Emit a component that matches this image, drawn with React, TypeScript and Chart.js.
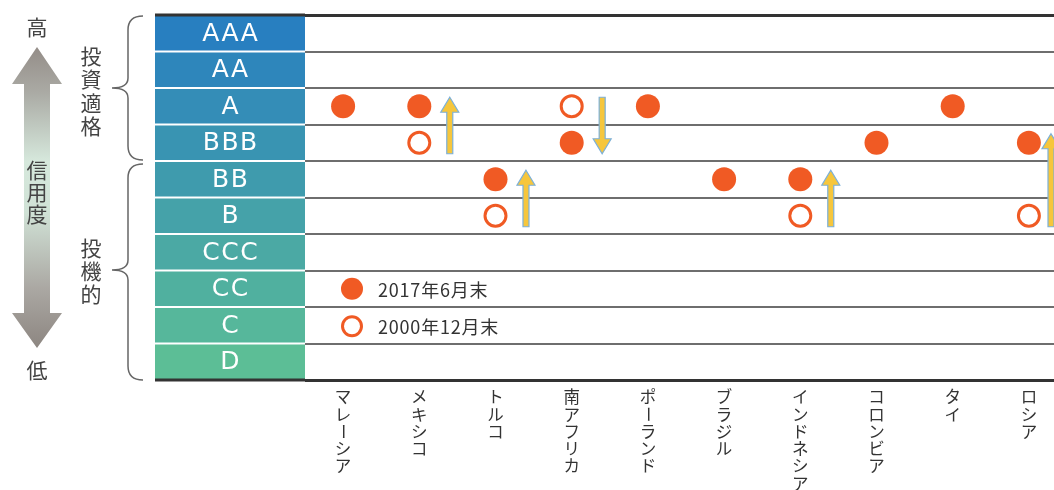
import React, { useEffect, useRef } from "react";
import { Chart, registerables } from "chart.js";

Chart.register(...registerables);

const countries = ["マレーシア", "メキシコ", "トルコ", "南アフリカ", "ポーランド", "ブラジル", "インドネシア", "コロンビア", "タイ", "ロシア"];
const ratings = ["AAA", "AA", "A", "BBB", "BB", "B", "CCC", "CC", "C", "D"];
const rating2017: (string | null)[] = ["A", "A", "BB", "BBB", "A", "BB", "BB", "BBB", "A", "BBB"];
const rating2000: (string | null)[] = [null, "BBB", "B", "A", null, null, "B", null, null, "B"];
const legendLabels = ["2017年6月末", "2000年12月末"];
const axisHigh = "高";
const axisLow = "低";
const axisName = "信用度";
const groupInvest = "投資適格";
const groupSpec = "投機的";

const ORANGE = "#f05a24";
const JP = '"Noto Sans CJK JP", "Noto Sans", sans-serif';

function lerpColor(a: number[], b: number[], t: number) {
  const c = a.map((v, i) => Math.round(v + (b[i] - v) * t));
  return `rgb(${c[0]},${c[1]},${c[2]})`;
}

const overlay = {
  id: "overlay",
  afterDraw(chart: any) {
    const ctx: CanvasRenderingContext2D = chart.ctx;
    const ys = chart.scales.y;
    const xs = chart.scales.x;
    const area = chart.chartArea;
    ctx.save();

    // rating boxes
    const boxL = 155;
    const boxR = area.left;
    ratings.forEach((r, i) => {
      const top = ys.getPixelForValue(i - 0.5);
      const bot = ys.getPixelForValue(i + 0.5);
      ctx.fillStyle = lerpColor([40, 127, 192], [92, 190, 150], i / (ratings.length - 1));
      ctx.fillRect(boxL, top + 1, boxR - boxL, bot - top - 2);
      ctx.fillStyle = "#ffffff";
      ctx.font = '25px "DejaVu Sans", sans-serif';
      (ctx as any).letterSpacing = "1.5px";
      ctx.textAlign = "center";
      ctx.textBaseline = "middle";
      ctx.fillText(r, (boxL + boxR) / 2 + 0.75, (top + bot) / 2 + 1);
      (ctx as any).letterSpacing = "0px";
    });
    // top / bottom lines over boxes
    ctx.strokeStyle = "#333";
    ctx.lineWidth = 3;
    [-0.5, ratings.length - 0.5].forEach((v) => {
      const y = ys.getPixelForValue(v);
      ctx.beginPath();
      ctx.moveTo(boxL, y);
      ctx.lineTo(boxR, y);
      ctx.stroke();
    });

    // double arrow on far left
    const aTop = 47, aBot = 348, hb1 = 84, hb2 = 313;
    const grad = ctx.createLinearGradient(0, aTop, 0, aBot);
    grad.addColorStop(0, "#948d88");
    grad.addColorStop(0.15, "#aaaaa4");
    grad.addColorStop(0.38, "#d6e8dc");
    grad.addColorStop(0.55, "#d0e2d6");
    grad.addColorStop(0.8, "#aba8a3");
    grad.addColorStop(1, "#8d8681");
    ctx.fillStyle = grad;
    ctx.beginPath();
    ctx.moveTo(37, aTop);
    ctx.lineTo(62, hb1);
    ctx.lineTo(50, hb1);
    ctx.lineTo(50, hb2);
    ctx.lineTo(62, hb2);
    ctx.lineTo(37, aBot);
    ctx.lineTo(12, hb2);
    ctx.lineTo(24, hb2);
    ctx.lineTo(24, hb1);
    ctx.lineTo(12, hb1);
    ctx.closePath();
    ctx.fill();

    ctx.fillStyle = "#444";
    ctx.font = `21px ${JP}`;
    ctx.textAlign = "center";
    ctx.textBaseline = "middle";
    ctx.fillText(axisHigh, 37, 27);
    ctx.fillText(axisLow, 37, 370);
    Array.from(axisName).forEach((ch, k) => ctx.fillText(ch, 37, 170 + k * 22));
    Array.from(groupInvest).forEach((ch, k) => ctx.fillText(ch, 91, 56 + k * 23.5));
    Array.from(groupSpec).forEach((ch, k) => ctx.fillText(ch, 91, 248 + k * 23));

    // braces
    ctx.strokeStyle = "#666";
    ctx.lineWidth = 1.5;
    const brace = (y0: number, yt: number, y1: number) => {
      ctx.beginPath();
      ctx.moveTo(143, y0);
      ctx.quadraticCurveTo(128, y0, 128, y0 + 14);
      ctx.lineTo(128, yt - 10);
      ctx.quadraticCurveTo(128, yt, 112, yt);
      ctx.quadraticCurveTo(128, yt, 128, yt + 10);
      ctx.lineTo(128, y1 - 14);
      ctx.quadraticCurveTo(128, y1, 143, y1);
      ctx.stroke();
    };
    brace(16, 88, 160);
    brace(164, 270, 380);

    // change arrows
    countries.forEach((_, i) => {
      const a = rating2000[i];
      const b = rating2017[i];
      if (!a || !b || a === b) return;
      const ia = ratings.indexOf(a);
      const ib = ratings.indexOf(b);
      const up = ib < ia;
      const x = Math.min(xs.getPixelForValue(i + 0.4), area.right - 3);
      const yUpper = ys.getPixelForValue(Math.min(ia, ib)) - 9;
      const yLower = ys.getPixelForValue(Math.max(ia, ib)) + 11;
      const tip = up ? yUpper : yLower;
      const tail = up ? yLower : yUpper;
      const dir = up ? 1 : -1;
      const hl = 15, hw = 9, sw = 3;
      ctx.beginPath();
      ctx.moveTo(x, tip);
      ctx.lineTo(x + hw, tip + dir * hl);
      ctx.lineTo(x + sw, tip + dir * hl);
      ctx.lineTo(x + sw, tail);
      ctx.lineTo(x - sw, tail);
      ctx.lineTo(x - sw, tip + dir * hl);
      ctx.lineTo(x - hw, tip + dir * hl);
      ctx.closePath();
      ctx.fillStyle = "#f6c63c";
      ctx.fill();
      ctx.strokeStyle = "#7cb0d8";
      ctx.lineWidth = 1.2;
      ctx.stroke();
    });

    // category labels (vertical)
    ctx.fillStyle = "#333";
    ctx.font = `16.5px ${JP}`;
    ctx.textAlign = "center";
    ctx.textBaseline = "middle";
    countries.forEach((name, i) => {
      const x = xs.getPixelForValue(i);
      Array.from(name).forEach((ch, k) => {
        const y = area.bottom + 17 + k * 17.3;
        if (ch === "ー") {
          ctx.save();
          ctx.translate(x, y);
          ctx.rotate(Math.PI / 2);
          ctx.fillText(ch, 0, 0);
          ctx.restore();
        } else {
          ctx.fillText(ch, x, y);
        }
      });
    });

    // legend
    const lx = area.left + 47;
    const ly1 = ys.getPixelForValue(7);
    const ly2 = ys.getPixelForValue(8) + 1;
    ctx.fillStyle = ORANGE;
    ctx.beginPath();
    ctx.arc(lx, ly1, 11, 0, Math.PI * 2);
    ctx.fill();
    ctx.fillStyle = "#fff";
    ctx.strokeStyle = ORANGE;
    ctx.lineWidth = 3;
    ctx.beginPath();
    ctx.arc(lx, ly2, 9.5, 0, Math.PI * 2);
    ctx.fill();
    ctx.stroke();
    ctx.fillStyle = "#333";
    ctx.font = `18px ${JP}`;
    (ctx as any).letterSpacing = "0.8px";
    ctx.textAlign = "left";
    ctx.fillText(legendLabels[0], lx + 26, ly1 + 1);
    ctx.fillText(legendLabels[1], lx + 26, ly2 + 1);
    (ctx as any).letterSpacing = "0px";

    ctx.restore();
  },
};

export default function App() {
  const ref = useRef<HTMLCanvasElement>(null);
  useEffect(() => {
    if (!ref.current) return;
    const spacing = 76.2;
    const left = 305;
    const width = 1054;
    const chart = new Chart(ref.current, {
      type: "scatter",
      data: {
        datasets: [
          {
            label: legendLabels[0],
            data: countries
              .map((_, i) => (rating2017[i] ? { x: i, y: ratings.indexOf(rating2017[i] as string) } : null))
              .filter(Boolean) as any,
            pointRadius: 12,
            backgroundColor: ORANGE,
            borderWidth: 0,
            order: 1,
          },
          {
            label: legendLabels[1],
            data: countries
              .map((_, i) => (rating2000[i] ? { x: i, y: ratings.indexOf(rating2000[i] as string) } : null))
              .filter(Boolean) as any,
            pointRadius: 10.5,
            backgroundColor: "#ffffff",
            borderColor: ORANGE,
            borderWidth: 3,
            order: 2,
          },
        ],
      },
      options: {
        responsive: false,
        animation: false,
        events: [],
        layout: { autoPadding: false, padding: { left: left, top: 15, right: 0, bottom: 110 } },
        plugins: { legend: { display: false }, tooltip: { enabled: false } },
        scales: {
          x: {
            type: "linear",
            display: false,
            min: -0.5,
            max: -0.5 + (width - left) / spacing,
          },
          y: {
            type: "linear",
            reverse: true,
            min: -0.5,
            max: ratings.length - 0.5,
            afterBuildTicks: (s: any) => {
              s.ticks = ratings.concat([""]).map((_, i) => ({ value: i - 0.5 }));
            },
            afterFit: (s: any) => {
              s.width = 0;
            },
            ticks: { display: false },
            border: { display: false },
            grid: {
              drawTicks: false,
              color: (c: any) => (c.index === 0 || c.index === ratings.length ? "#333" : "#6e6e6e"),
              lineWidth: (c: any) => (c.index === 0 || c.index === ratings.length ? 3 : 2),
            },
          },
        },
      },
      plugins: [overlay],
    });
    return () => chart.destroy();
  }, []);
  return (
    <div style={{ position: "absolute", left: 0, top: 0, width: 1054, height: 490, background: "#fff" }}>
      <canvas ref={ref} width={1054} height={490} style={{ width: 1054, height: 490, display: "block" }} />
    </div>
  );
}
